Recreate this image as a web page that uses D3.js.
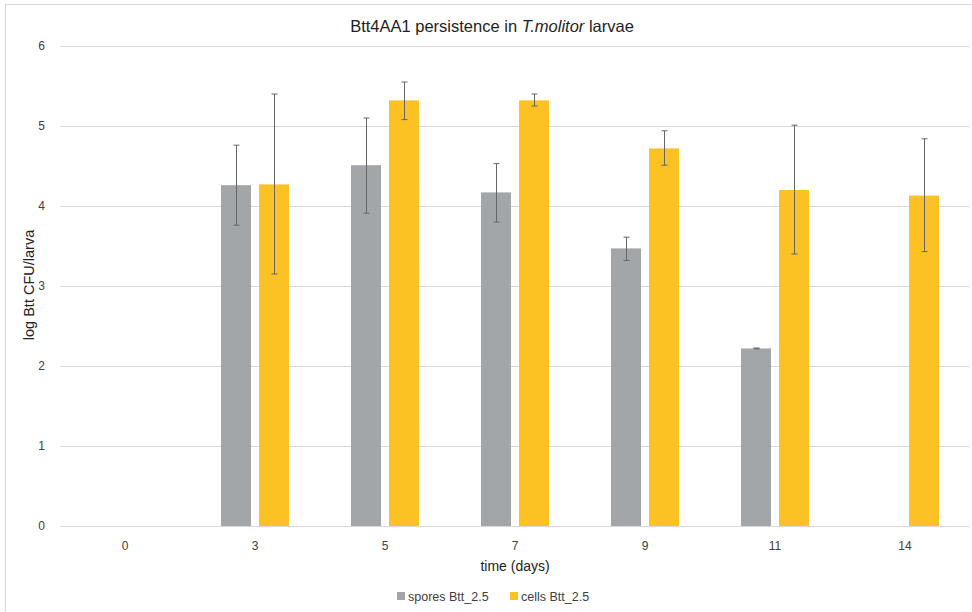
<!DOCTYPE html>
<html><head><meta charset="utf-8">
<script src="https://cdn.jsdelivr.net/npm/d3@7"></script>
<style>body{margin:0;background:#fff}svg{display:block;font-family:"Liberation Sans",Arial,sans-serif}</style>
</head><body><svg id="c" width="972" height="612"></svg>
<script>
const categories = ["0","3","5","7","9","11","14"];
const seriesNames = ["spores Btt_2.5","cells Btt_2.5"];
const spores = [null,4.26,4.51,4.17,3.47,2.22,null];
const sporesHi = [null,4.76,5.10,4.53,3.61,2.225,null];
const sporesLo = [null,3.76,3.91,3.80,3.32,2.215,null];
const cells = [null,4.27,5.32,5.32,4.72,4.20,4.13];
const cellsHi = [null,5.40,5.55,5.40,4.94,5.01,4.84];
const cellsLo = [null,3.15,5.08,5.25,4.51,3.40,3.43];
const yTicks = [0,1,2,3,4,5,6];
const colors = ["#a3a6a9","#fcc122"];

const svg = d3.select("#c");
svg.append("rect").attr("x",5.5).attr("y",4.5).attr("width",980).attr("height",620)
  .attr("fill","none").attr("stroke","#d9d9d9");

const x = d3.scaleBand().domain(categories).range([60,970]);
const y = d3.scaleLinear().domain([0,6]).range([526,46]);

svg.append("g").selectAll("line").data(yTicks).join("line")
  .attr("x1",60).attr("x2",970).attr("y1",d=>y(d)+0.5).attr("y2",d=>y(d)+0.5)
  .attr("stroke","#d9d9d9").attr("stroke-width",1);

svg.append("g").selectAll("text").data(yTicks).join("text")
  .attr("x",45).attr("y",d=>y(d)+4).attr("text-anchor","end")
  .attr("font-size",12).attr("fill","#404040").text(d=>d);

svg.append("g").selectAll("text").data(categories).join("text")
  .attr("x",d=>x(d)+x.bandwidth()/2).attr("y",550).attr("text-anchor","middle")
  .attr("font-size",12).attr("fill","#404040").text(d=>d);

const barW = 30, offset = 19;
const series = [
  {vals:spores, hi:sporesHi, lo:sporesLo, dx:-offset, color:colors[0]},
  {vals:cells, hi:cellsHi, lo:cellsLo, dx:offset, color:colors[1]}
];
series.forEach(s=>{
  const data = categories.map((c,i)=>({c, v:s.vals[i], hi:s.hi[i], lo:s.lo[i]})).filter(d=>d.v!=null);
  const g = svg.append("g");
  g.selectAll("rect").data(data).join("rect")
    .attr("x",d=>x(d.c)+x.bandwidth()/2+s.dx-barW/2).attr("width",barW)
    .attr("y",d=>y(d.v)).attr("height",d=>y(0)-y(d.v)).attr("fill",s.color);
  const eg = svg.append("g").attr("stroke","#666").attr("stroke-width",1);
  data.forEach(d=>{
    const cx = Math.round(x(d.c)+x.bandwidth()/2+s.dx)+0.5;
    eg.append("line").attr("x1",cx).attr("x2",cx).attr("y1",y(d.hi)).attr("y2",y(d.lo));
    eg.append("line").attr("x1",cx-3).attr("x2",cx+3).attr("y1",y(d.hi)).attr("y2",y(d.hi));
    eg.append("line").attr("x1",cx-3).attr("x2",cx+3).attr("y1",y(d.lo)).attr("y2",y(d.lo));
  });
});

const t = svg.append("text").attr("x",492).attr("y",32).attr("text-anchor","middle")
  .attr("font-size",16.5).attr("fill","#222");
t.append("tspan").text("Btt4AA1 persistence in ");
t.append("tspan").attr("font-style","italic").text("T.molitor");
t.append("tspan").text(" larvae");

svg.append("text").attr("x",515).attr("y",571).attr("text-anchor","middle")
  .attr("font-size",14).attr("fill","#222").text("time (days)");
svg.append("text").attr("transform","translate(34,285) rotate(-90)").attr("text-anchor","middle")
  .attr("font-size",14.5).attr("fill","#222").text("log Btt CFU/larva");

const legX = [397,510];
seriesNames.forEach((n,i)=>{
  svg.append("rect").attr("x",legX[i]).attr("y",592).attr("width",8).attr("height",8).attr("fill",colors[i]);
  svg.append("text").attr("x",legX[i]+11).attr("y",601).attr("font-size",12.5).attr("fill","#404040").text(n);
});
</script></body></html>
